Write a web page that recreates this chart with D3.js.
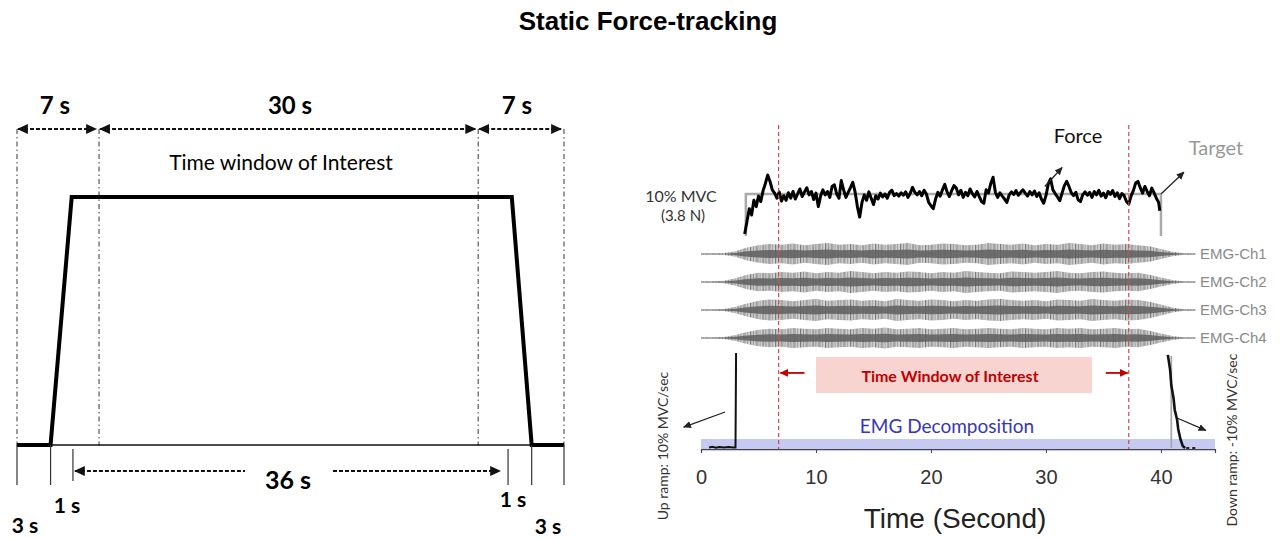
<!DOCTYPE html>
<html>
<head>
<meta charset="utf-8">
<script src="https://cdn.jsdelivr.net/npm/d3@7"></script>
<style>
body { margin: 0; background: #fff; }
svg { display: block; }
</style>
</head>
<body>
<div id="chart_div"></div>
<script>
var width = 1287;
var height = 538;

// ---- left panel: the ideal force profile (seconds, % MVC) ----
var profile_time = [0, 2.7, 4.4, 39.8, 41.4, 44];
var profile_force = [0, 0, 10, 10, 0, 0];
var phase_edges = [0, 6.6, 37.1, 44];          // dash-dot lines
var phase_labels = ["7 s", "30 s", "7 s"];
var base_ticks = [0, 2.7, 4.5, 39.5, 41.4, 44];
var base_tick_long = [true, true, false, false, true, true];

// ---- right panel: recorded force, target, EMG ----
var target_time = [3.9, 3.9, 40.0, 40.0];
var target_force = [0, 10, 10, 0];

var force_samples = [
    [3.8,0.5],[4.0,3.5],[4.2,6.5],[4.4,5.0],[4.6,8.5],[4.8,7.0],[5.0,9.5],[5.2,8.2],[5.4,10.8],[5.6,12.5],
    [5.8,14.5],[6.0,13.0],[6.2,11.0],[6.4,10.2],[6.6,9.0],[6.8,10.5],[7.0,8.3],[7.2,9.6],[7.4,8.5],[7.6,10.3],
    [7.8,9.0],[8.0,10.6],[8.2,8.8],[8.4,10.0],[8.6,11.2],[8.8,9.4],[9.0,10.5],[9.2,11.5],[9.4,9.8],[9.6,10.6],
    [9.8,8.7],[10.0,10.2],[10.2,7.0],[10.4,9.5],[10.6,11.0],[10.8,9.8],[11.0,10.6],[11.2,9.2],[11.4,11.8],[11.6,12.2],
    [11.8,10.0],[12.0,9.0],[12.2,13.2],[12.4,11.0],[12.6,9.2],[12.8,10.4],[13.0,11.5],[13.2,12.8],[13.4,10.5],[13.6,7.0],
    [13.8,4.5],[14.0,8.0],[14.2,9.8],[14.4,8.5],[14.6,10.5],[14.8,9.0],[15.0,7.5],[15.2,9.6],[15.4,8.8],[15.6,10.2],
    [15.8,9.3],[16.0,10.0],[16.2,9.0],[16.4,10.4],[16.6,10.9],[16.8,9.6],[17.0,10.1],[17.2,9.5],[17.4,10.3],[17.6,9.7],
    [17.8,10.5],[18.0,9.2],[18.2,10.2],[18.4,11.6],[18.6,10.4],[18.8,9.8],[19.0,10.6],[19.2,9.6],[19.4,10.9],[19.6,10.0],
    [19.8,8.0],[20.0,7.2],[20.2,6.5],[20.4,8.8],[20.6,10.4],[20.8,9.5],[21.0,11.0],[21.2,12.3],[21.4,10.5],[21.6,9.4],
    [21.8,10.8],[22.0,12.0],[22.2,11.4],[22.4,9.8],[22.6,10.9],[22.8,9.2],[23.0,10.4],[23.2,9.6],[23.4,11.2],[23.6,10.1],
    [23.8,9.3],[24.0,10.6],[24.2,9.4],[24.4,8.2],[24.6,7.8],[24.8,11.0],[25.0,10.2],[25.2,12.5],[25.4,14.0],[25.6,10.4],
    [25.8,9.2],[26.0,10.3],[26.2,9.5],[26.4,8.8],[26.6,8.0],[26.8,9.8],[27.0,10.5],[27.2,9.9],[27.4,10.8],[27.6,9.7],
    [27.8,10.4],[28.0,11.0],[28.2,10.2],[28.4,9.5],[28.6,10.6],[28.8,9.8],[29.0,10.7],[29.2,9.4],[29.4,10.3],[29.6,8.8],
    [29.8,7.8],[30.0,9.6],[30.2,12.4],[30.4,13.6],[30.6,11.0],[30.8,10.1],[31.0,9.3],[31.2,8.4],[31.4,10.2],[31.6,12.0],
    [31.8,13.0],[32.0,11.8],[32.2,10.3],[32.4,9.6],[32.6,10.4],[32.8,8.6],[33.0,8.2],[33.2,9.8],[33.4,10.5],[33.6,9.7],
    [33.8,10.4],[34.0,9.2],[34.2,10.6],[34.4,9.8],[34.6,10.9],[34.8,9.5],[35.0,10.2],[35.2,9.1],[35.4,10.6],[35.6,9.9],
    [35.8,10.8],[36.0,9.4],[36.2,10.3],[36.4,8.9],[36.6,10.1],[36.8,9.6],[37.0,8.2],[37.2,7.6],[37.4,9.5],[37.6,10.8],
    [37.8,12.6],[38.0,13.0],[38.2,11.5],[38.4,10.2],[38.6,11.8],[38.8,10.6],[39.0,9.6],[39.2,11.4],[39.4,10.3],[39.6,9.0],
    [39.8,8.0],[39.9,6.0]
];

// EMG envelopes, one value per second from 0 s (normalised amplitude)
var emg_names = ["EMG-Ch1", "EMG-Ch2", "EMG-Ch3", "EMG-Ch4"];
var emg_envelopes = [
    [0.04,0.05,0.08,0.25,0.6,0.8,0.9,0.85,0.95,0.8,0.9,1.0,0.85,0.9,0.8,0.95,0.85,0.9,1.0,0.8,0.85,0.95,
     0.9,0.8,0.85,1.0,0.9,0.85,0.95,0.8,0.9,0.85,1.0,0.9,0.8,0.95,0.85,0.9,0.8,0.7,0.45,0.2,0.06,0.04],
    [0.04,0.06,0.12,0.35,0.65,0.85,0.8,0.9,0.85,0.95,0.8,0.9,0.85,1.0,0.9,0.8,0.9,0.85,0.95,0.9,0.8,0.9,
     0.85,1.0,0.9,0.85,0.8,0.95,0.9,0.85,0.9,1.0,0.85,0.8,0.9,0.95,0.85,0.8,0.85,0.65,0.4,0.18,0.05,0.04],
    [0.04,0.05,0.1,0.3,0.6,0.85,0.95,0.9,0.8,0.9,1.0,0.85,0.9,0.95,0.85,0.9,0.8,1.0,0.9,0.85,0.95,0.9,
     0.8,0.9,0.85,0.95,1.0,0.9,0.85,0.9,0.8,0.95,0.9,0.85,1.0,0.9,0.85,0.95,0.9,0.75,0.5,0.22,0.06,0.04],
    [0.04,0.05,0.1,0.28,0.55,0.75,0.85,0.8,0.9,0.85,0.8,0.9,0.85,0.8,0.9,0.85,0.95,0.8,0.85,0.9,0.8,0.85,
     0.9,0.8,0.85,0.9,0.85,0.8,0.9,0.85,0.8,0.9,0.85,0.9,0.8,0.85,0.9,0.8,0.85,0.65,0.4,0.18,0.05,0.04]
];

// bottom trace: ramps on a compressed force scale (arbitrary units)
var up_ramp = [[0.7,0.5],[1.0,1.2],[1.3,0.4],[1.6,1.0],[2.0,0.6],[2.4,1.1],[2.8,0.5],[3.0,0.6],[3.02,40],[3.05,100]];
var down_ramp = [[40.6,98],[40.8,82],[40.9,66],[41.1,52],[41.2,40],[41.4,30],[41.5,20],[41.7,9],[41.9,2],[42.1,0]];
var down_tail = [[42.2,0],[43.2,0]];
var down_target = [[40.9,97],[40.9,0]];

var window_edges = [6.75, 37.2];
var x_ticks = [0, 10, 20, 30, 40];

var svg = d3.select("#chart_div")
    .append("svg")
    .attr("width", width)
    .attr("height", height);

var defs = svg.append("defs");
function add_marker(id, colour, size) {
    defs.append("marker")
        .attr("id", id)
        .attr("viewBox", "0 0 10 10")
        .attr("refX", 9)
        .attr("refY", 5)
        .attr("markerWidth", size)
        .attr("markerHeight", size)
        .attr("markerUnits", "userSpaceOnUse")
        .attr("orient", "auto-start-reverse")
        .append("path")
        .attr("d", "M0,0.5 L10,5 L0,9.5 z")
        .attr("fill", colour);
}
add_marker("arrow_black", "#111", 11);
add_marker("arrow_thin", "#222", 8);
add_marker("arrow_red", "#c00000", 9);

// irregular vertical hairs used as texture for the EMG bursts
var hatch = [[0, 1, "#7a7a7a"], [1.5, 0.6, "#9a9a9a"], [3, 1, "#858585"], [5, 0.5, "#b0b0b0"],
             [6.2, 1, "#6f6f6f"], [8, 0.6, "#a0a0a0"], [9.5, 0.8, "#8c8c8c"], [11.2, 0.5, "#b5b5b5"]];
var pattern = defs.append("pattern")
    .attr("id", "emg_hatch")
    .attr("width", 12.5)
    .attr("height", 6)
    .attr("patternUnits", "userSpaceOnUse");
pattern.append("rect").attr("width", 12.5).attr("height", 6).attr("fill", "#d9d9d9");
hatch.forEach(function(h) {
    pattern.append("rect")
        .attr("x", h[0]).attr("width", h[1]).attr("height", 6)
        .attr("fill", h[2]);
});

svg.append("text")
    .attr("x", 648)
    .attr("y", 30)
    .attr("text-anchor", "middle")
    .style("font-family", "'Liberation Sans', Arial, sans-serif")
    .style("font-weight", "bold")
    .style("font-size", "26px")
    .text("Static Force-tracking");

// ================= LEFT PANEL =================
var calibri = "Lato, 'Open Sans', sans-serif";
var xL = d3.scaleLinear().domain([0, 44]).range([17, 564]);
var yL = d3.scaleLinear().domain([0, 10]).range([445, 197]);
var left = svg.append("g");

left.selectAll(".phase_edge")
    .data(phase_edges)
    .enter()
    .append("line")
    .attr("x1", function(d) { return xL(d); })
    .attr("x2", function(d) { return xL(d); })
    .attr("y1", 129)
    .attr("y2", 446)
    .attr("stroke", "#666")
    .attr("stroke-width", 1.3)
    .attr("stroke-dasharray", "5,3,1.5,3");

// dimension arrows over the three phases
left.selectAll(".phase_arrow")
    .data(d3.range(phase_labels.length))
    .enter()
    .append("line")
    .attr("x1", function(i) { return xL(phase_edges[i]) + 1; })
    .attr("x2", function(i) { return xL(phase_edges[i + 1]) - 3; })
    .attr("y1", 129)
    .attr("y2", 129)
    .attr("stroke", "#111")
    .attr("stroke-width", 1.8)
    .attr("stroke-dasharray", "4,2")
    .attr("marker-start", "url(#arrow_black)")
    .attr("marker-end", "url(#arrow_black)");

left.selectAll(".phase_label")
    .data(phase_labels)
    .enter()
    .append("text")
    .attr("x", function(d, i) {
        return i == 0 ? 55 : (i == 1 ? 290 : 517);
    })
    .attr("y", 114)
    .attr("text-anchor", "middle")
    .style("font-family", calibri)
    .style("font-weight", "bold")
    .style("font-size", "24px")
    .text(function(d) { return d; });

left.append("text")
    .attr("x", 281)
    .attr("y", 170)
    .attr("text-anchor", "middle")
    .style("font-family", calibri)
    .style("font-size", "21px")
    .text("Time window of Interest");

// thin baseline
left.append("line")
    .attr("x1", xL(0)).attr("x2", xL(44))
    .attr("y1", yL(0)).attr("y2", yL(0))
    .attr("stroke", "#111")
    .attr("stroke-width", 1.5);

var profile_line = d3.line()
    .x(function(d, i) { return xL(profile_time[i]); })
    .y(function(d) { return yL(d); });
left.append("path")
    .attr("d", profile_line(profile_force))
    .attr("fill", "none")
    .attr("stroke", "#000")
    .attr("stroke-width", 4)
    .attr("stroke-linejoin", "miter");

left.selectAll(".base_tick")
    .data(base_ticks)
    .enter()
    .append("line")
    .attr("x1", function(d) { return xL(d); })
    .attr("x2", function(d) { return xL(d); })
    .attr("y1", function(d, i) { return base_tick_long[i] ? yL(0) : yL(0) + 4; })
    .attr("y2", function(d, i) { return base_tick_long[i] ? 485 : (i == 2 ? 481 : 485); })
    .attr("stroke", "#333")
    .attr("stroke-width", 1.2);

// 36 s arrow
left.append("line")
    .attr("x1", xL(4.5) + 2).attr("x2", 245)
    .attr("y1", 471).attr("y2", 471)
    .attr("stroke", "#111").attr("stroke-width", 1.8)
    .attr("stroke-dasharray", "4,2")
    .attr("marker-start", "url(#arrow_black)");
left.append("line")
    .attr("x1", 333).attr("x2", xL(39.5) - 8)
    .attr("y1", 471).attr("y2", 471)
    .attr("stroke", "#111").attr("stroke-width", 1.8)
    .attr("stroke-dasharray", "4,2")
    .attr("marker-end", "url(#arrow_black)");

var bottom_labels = [
    {t: "36 s", x: 288, y: 489},
    {t: "1 s", x: 67, y: 513},
    {t: "3 s", x: 25, y: 533},
    {t: "1 s", x: 513, y: 507},
    {t: "3 s", x: 548, y: 534}
];
left.selectAll(".bottom_label")
    .data(bottom_labels)
    .enter()
    .append("text")
    .attr("x", function(d) { return d.x; })
    .attr("y", function(d) { return d.y; })
    .attr("text-anchor", "middle")
    .style("font-family", calibri)
    .style("font-weight", "bold")
    .style("font-size", function(d, i) { return i == 0 ? "25px" : "21px"; })
    .text(function(d) { return d.t; });

// ================= RIGHT PANEL =================
var xR = d3.scaleLinear().domain([0, 44.7]).range([701, 1215]);
var yF = d3.scaleLinear().domain([0, 10]).range([236, 194]);
var yB = d3.scaleLinear().domain([0, 100]).range([448, 353]);
var right = svg.append("g");

// blue band: EMG decomposition
right.append("rect")
    .attr("x", xR(0))
    .attr("y", yB(9.5))
    .attr("width", xR(44.7) - xR(0))
    .attr("height", yB(-3.2) - yB(9.5))
    .attr("fill", "#c6c9f0");

right.append("text")
    .attr("x", 947)
    .attr("y", 433)
    .attr("text-anchor", "middle")
    .attr("fill", "#3636b8")
    .style("font-family", calibri)
    .style("font-size", "19px")
    .text("EMG Decomposition");

// pink box: time window of interest
right.append("rect")
    .attr("x", xR(10))
    .attr("y", yB(95.8))
    .attr("width", xR(34) - xR(10))
    .attr("height", yB(57.9) - yB(95.8))
    .attr("fill", "#f8d4d0");
right.append("text")
    .attr("x", 950)
    .attr("y", 382)
    .attr("text-anchor", "middle")
    .attr("fill", "#c00000")
    .style("font-family", calibri)
    .style("font-weight", "bold")
    .style("font-size", "16px")
    .text("Time Window of Interest");

// x axis
var x_axis = d3.axisBottom(xR)
    .tickValues(x_ticks)
    .tickSize(4)
    .tickPadding(17)
    .tickFormat(d3.format("d"));
var axis_g = right.append("g")
    .attr("transform", "translate(0,449)")
    .call(x_axis);
axis_g.select(".domain").attr("stroke", "#444").attr("stroke-width", 1.2);
axis_g.selectAll(".tick line").attr("stroke", "#444");
axis_g.selectAll(".tick text")
    .attr("fill", "#333")
    .style("font-family", "'Liberation Sans', Arial, sans-serif")
    .style("font-size", "20px");

right.append("text")
    .attr("x", 955)
    .attr("y", 528)
    .attr("text-anchor", "middle")
    .attr("fill", "#222")
    .style("font-family", "'Liberation Sans', Arial, sans-serif")
    .style("font-size", "28px")
    .text("Time (Second)");

// EMG channels
var emg_centres = [254, 282, 310, 338];
emg_envelopes.forEach(function(env, ch) {
    var c = emg_centres[ch];
    var outer = d3.area()
        .x(function(d, i) { return xR(i); })
        .y0(function(d) { return c + d * 11; })
        .y1(function(d) { return c - d * 11; });
    var inner = d3.area()
        .x(function(d, i) { return xR(i); })
        .y0(function(d) { return c + d * 4.5; })
        .y1(function(d) { return c - d * 4.5; });
    right.append("line")
        .attr("x1", xR(0)).attr("x2", xR(43))
        .attr("y1", c).attr("y2", c)
        .attr("stroke", "#999").attr("stroke-width", 1);
    right.append("path")
        .attr("d", outer(env))
        .attr("fill", "url(#emg_hatch)");
    right.append("path")
        .attr("d", inner(env))
        .attr("fill", "#5e5e5e")
        .attr("opacity", 0.85);
    right.append("text")
        .attr("x", 1200)
        .attr("y", c + 5)
        .attr("fill", "#8a8a8a")
        .style("font-family", "'Liberation Sans Narrow', 'Arial Narrow', sans-serif")
        .style("font-size", "15px")
        .text(emg_names[ch]);
});

// force trace and target
var target_line = d3.line()
    .x(function(d, i) { return xR(target_time[i]); })
    .y(function(d) { return yF(d); });
right.append("path")
    .attr("d", target_line(target_force))
    .attr("fill", "none")
    .attr("stroke", "#aaa")
    .attr("stroke-width", 2.5);

var force_line = d3.line()
    .x(function(d) { return xR(d[0]); })
    .y(function(d) { return yF(d[1]); });
right.append("path")
    .attr("d", force_line(force_samples))
    .attr("fill", "none")
    .attr("stroke", "#000")
    .attr("stroke-width", 3)
    .attr("stroke-linejoin", "round");

// ramps in the bottom trace
var ramp_line = d3.line()
    .x(function(d) { return xR(d[0]); })
    .y(function(d) { return yB(d[1]); });
right.append("path")
    .attr("d", ramp_line(down_target))
    .attr("fill", "none").attr("stroke", "#aaa").attr("stroke-width", 1.8);
right.append("path")
    .attr("d", ramp_line(up_ramp))
    .attr("fill", "none").attr("stroke", "#111").attr("stroke-width", 2);
right.append("path")
    .attr("d", ramp_line(down_ramp))
    .attr("fill", "none").attr("stroke", "#111").attr("stroke-width", 2.6);
right.append("path")
    .attr("d", ramp_line(down_tail))
    .attr("fill", "none").attr("stroke", "#222").attr("stroke-width", 2)
    .attr("stroke-dasharray", "3,3");

// red dashed window edges
right.selectAll(".window_edge")
    .data(window_edges)
    .enter()
    .append("line")
    .attr("x1", function(d) { return xR(d); })
    .attr("x2", function(d) { return xR(d); })
    .attr("y1", 125)
    .attr("y2", 449)
    .attr("stroke", "#d24a4a")
    .attr("stroke-width", 1.2)
    .attr("stroke-dasharray", "4,3");

// red arrows pointing at the window edges
right.append("line")
    .attr("x1", xR(9.0)).attr("x2", xR(6.9))
    .attr("y1", yB(79)).attr("y2", yB(79))
    .attr("stroke", "#c00000").attr("stroke-width", 1.8)
    .attr("marker-end", "url(#arrow_red)");
right.append("line")
    .attr("x1", xR(35.2)).attr("x2", xR(37.1))
    .attr("y1", yB(79)).attr("y2", yB(79))
    .attr("stroke", "#c00000").attr("stroke-width", 1.8)
    .attr("marker-end", "url(#arrow_red)");

// annotation arrows
function thin_arrow(x1, y1, x2, y2) {
    right.append("line")
        .attr("x1", x1).attr("y1", y1)
        .attr("x2", x2).attr("y2", y2)
        .attr("stroke", "#222")
        .attr("stroke-width", 1.3)
        .attr("marker-end", "url(#arrow_thin)");
}
thin_arrow(xR(29.9), yF(11.8), xR(31.4), yF(16.3));
thin_arrow(xR(40.0), yF(10), xR(42.0), yF(15.2));
thin_arrow(xR(2.1), yB(37.9), xR(-1.5), yB(22));
thin_arrow(xR(41.4), yB(31.6), xR(43.9), yB(18.5));

right.append("text")
    .attr("x", 1078).attr("y", 143)
    .attr("text-anchor", "middle")
    .attr("fill", "#111")
    .style("font-family", calibri)
    .style("font-size", "20px")
    .text("Force");
right.append("text")
    .attr("x", 1216).attr("y", 155)
    .attr("text-anchor", "middle")
    .attr("fill", "#999")
    .style("font-family", calibri)
    .style("font-size", "20px")
    .text("Target");
right.append("text")
    .attr("x", 681).attr("y", 202)
    .attr("text-anchor", "middle")
    .attr("fill", "#333")
    .style("font-family", calibri)
    .style("font-size", "16px")
    .text("10% MVC");
right.append("text")
    .attr("x", 683).attr("y", 221)
    .attr("text-anchor", "middle")
    .attr("fill", "#333")
    .style("font-family", calibri)
    .style("font-size", "15px")
    .text("(3.8 N)");

right.append("text")
    .attr("transform", "translate(668,446) rotate(-90)")
    .attr("text-anchor", "middle")
    .attr("fill", "#333")
    .style("font-family", calibri)
    .style("font-size", "14px")
    .text("Up ramp: 10% MVC/sec");
right.append("text")
    .attr("transform", "translate(1237,440) rotate(-90)")
    .attr("text-anchor", "middle")
    .attr("fill", "#333")
    .style("font-family", calibri)
    .style("font-size", "14px")
    .text("Down ramp: -10% MVC/sec");
</script>
</body>
</html>
